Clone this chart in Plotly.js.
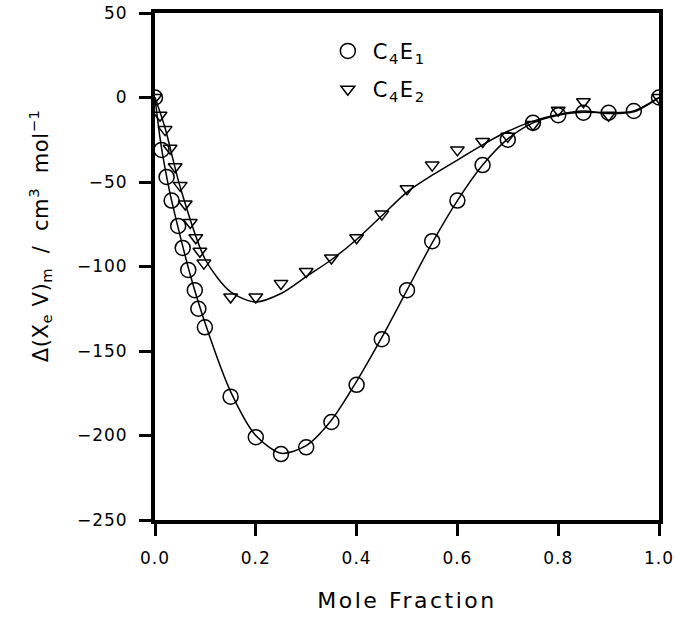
<!DOCTYPE html>
<html>
<head>
<meta charset="utf-8">
<script src="https://cdn.plot.ly/plotly-3.0.1.min.js"></script>
<style>
  html, body { margin: 0; padding: 0; background: #fff; }
  #chart { width: 679px; height: 621px; }
  .xtick text, .ytick text { letter-spacing: 1px; }
  .g-xtitle text { letter-spacing: 2.5px; }
  .annotation-text { letter-spacing: 0.6px; }
  .legendtext { letter-spacing: 1.5px; }
</style>
</head>
<body>
<div id="chart"></div>
<script>
// Measured points, C4E1 (circles)
const c4e1X = [0, 0.013, 0.023, 0.033, 0.046, 0.055, 0.066, 0.079, 0.086, 0.099, 0.15, 0.2, 0.25, 0.3, 0.35, 0.4, 0.45, 0.5, 0.55, 0.6, 0.65, 0.7, 0.75, 0.8, 0.85, 0.9, 0.95, 1.0];
const c4e1Y = [0, -31, -47, -61, -76, -89, -102, -114, -125, -136, -177, -201, -211, -207, -192, -170, -143, -114, -85, -61, -40, -25, -15, -10.5, -9, -9, -8, 0];

// Measured points, C4E2 (triangles)
const c4e2X = [0, 0.01, 0.02, 0.03, 0.04, 0.05, 0.06, 0.07, 0.081, 0.089, 0.097, 0.15, 0.2, 0.25, 0.3, 0.35, 0.4, 0.45, 0.5, 0.55, 0.6, 0.65, 0.7, 0.75, 0.8, 0.85, 0.9, 1.0];
const c4e2Y = [0, -10.5, -19, -30, -41, -52, -63, -74, -83, -91, -98, -118, -118, -110, -103, -95, -83, -69, -54, -40, -31, -26, -23, -16, -7.5, -2.5, -10.5, 0];

// Fitted curves
const fit1X = [0, 0.01, 0.02, 0.03, 0.05, 0.07, 0.1, 0.15, 0.2, 0.25, 0.3, 0.35, 0.4, 0.45, 0.5, 0.55, 0.6, 0.65, 0.7, 0.75, 0.8, 0.85, 0.9, 0.95, 1.0];
const fit1Y = [0, -24, -42, -57, -82, -105, -134, -174, -200, -210.5, -206, -191, -168, -142, -114, -86, -61, -40, -24.5, -15, -10.5, -8.8, -9, -8, 0];
const fit2X = [0, 0.02, 0.05, 0.1, 0.15, 0.2, 0.25, 0.3, 0.35, 0.4, 0.45, 0.5, 0.55, 0.6, 0.65, 0.7, 0.75, 0.8, 0.85, 0.9, 0.95, 1.0];
const fit2Y = [0, -18, -53, -96, -115, -121, -116, -106, -96, -84, -70, -56, -46, -37, -28, -20, -14, -10, -8, -9.5, -8.5, 0];

const xTicks = [0, 0.2, 0.4, 0.6, 0.8, 1.0];
const xTickText = ['0.0', '0.2', '0.4', '0.6', '0.8', '1.0'];
const yTicks = [-250, -200, -150, -100, -50, 0, 50];

const FONT = 'DejaVu Sans, Liberation Sans, Arial, sans-serif';

const traces = [
  {x: fit1X, y: fit1Y, mode: 'lines', line: {color: '#000', width: 1.5, shape: 'spline', smoothing: 0.8}, showlegend: false, hoverinfo: 'skip'},
  {x: fit2X, y: fit2Y, mode: 'lines', line: {color: '#000', width: 1.5, shape: 'spline', smoothing: 0.8}, showlegend: false, hoverinfo: 'skip'},
  {x: c4e1X, y: c4e1Y, mode: 'markers', name: 'C<sub>4</sub>E<sub>1</sub>', legendgroup: 'a',
   marker: {symbol: 'circle-open', size: 15, color: '#000', line: {color: '#000', width: 1.5}}},
  {x: c4e2X, y: c4e2Y, mode: 'markers', name: 'C<sub>4</sub>E<sub>2</sub>', legendgroup: 'b',
   marker: {symbol: 'triangle-down-open', size: 12, color: '#000', line: {color: '#000', width: 1.5}}}
];

const layout = {
  width: 679, height: 621,
  margin: {l: 155, r: 20, t: 13, b: 101},
  paper_bgcolor: '#fff', plot_bgcolor: '#fff',
  font: {family: FONT, color: '#000'},
  showlegend: true,
  legend: {x: 0.333, y: 0.965, xanchor: 'left', yanchor: 'top', bgcolor: 'rgba(0,0,0,0)',
           font: {size: 21, family: FONT}, traceorder: 'grouped', tracegroupgap: 8,
           itemwidth: 40},
  xaxis: {
    range: [0, 1], tickvals: xTicks, ticktext: xTickText,
    showline: true, linewidth: 4, linecolor: '#000', mirror: true,
    ticks: 'outside', ticklen: 12, tickwidth: 3, tickcolor: '#000',
    showgrid: false, zeroline: false, ticklabelstandoff: 8,
    tickfont: {size: 17, family: FONT},
    title: {text: 'Mole Fraction', font: {size: 22, family: FONT}, standoff: 26}
  },
  yaxis: {
    range: [-250, 50], tickvals: yTicks,
    showline: true, linewidth: 4, linecolor: '#000', mirror: true,
    ticks: 'outside', ticklen: 12, tickwidth: 3, tickcolor: '#000',
    showgrid: false, zeroline: false, ticklabelstandoff: 8,
    tickfont: {size: 17, family: FONT}
  },
  annotations: [{
    text: 'Δ(X<sub>e</sub> V)<sub>m</sub>  /  cm<sup>3</sup>  mol<sup>−1</sup>',
    xref: 'paper', yref: 'paper', x: -0.228, y: 0.56,
    xanchor: 'center', yanchor: 'middle', textangle: -90, showarrow: false,
    font: {size: 21, family: FONT, color: '#000'}
  }]
};

Plotly.newPlot('chart', traces, layout, {displayModeBar: false, staticPlot: true});
</script>
</body>
</html>
